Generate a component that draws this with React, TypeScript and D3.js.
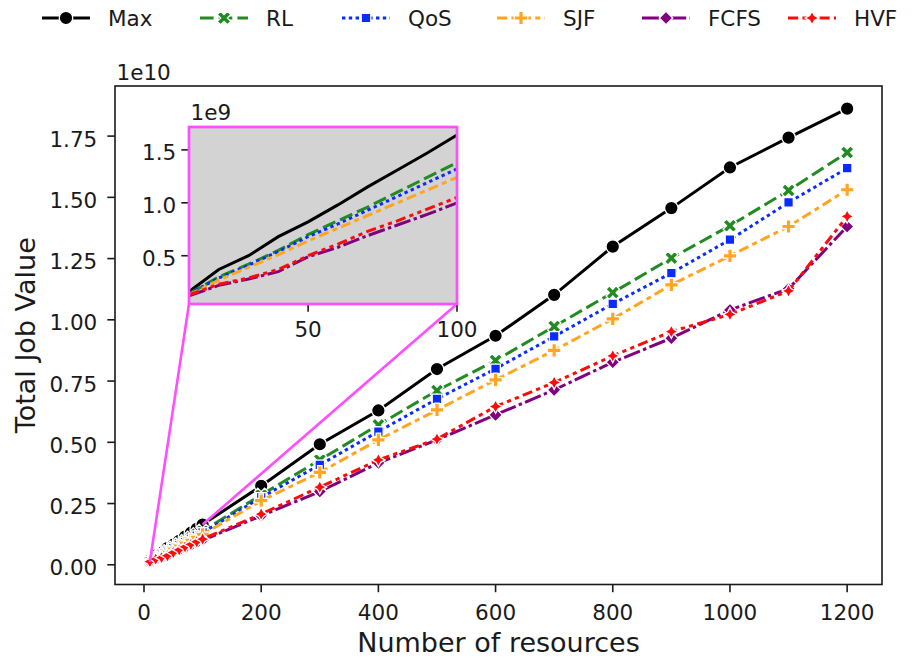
import React from "react";
import * as d3 from "d3";

// Number of resources on the x axis
const resources = [10, 20, 30, 40, 50, 60, 70, 80, 90, 100, 200, 300, 400, 500, 600, 700, 800, 900, 1000, 1100, 1200];

// Total job value per scheduling policy, in units of 1e9
const maxValues = [0.16, 0.37, 0.5, 0.68, 0.82, 0.98, 1.15, 1.31, 1.47, 1.64, 3.22, 4.92, 6.3, 7.99, 9.35, 11.02, 12.99, 14.56, 16.22, 17.44, 18.62];
const rlValues = [0.14, 0.3, 0.42, 0.55, 0.7, 0.83, 0.96, 1.1, 1.24, 1.38, 2.85, 4.28, 5.71, 7.11, 8.34, 9.73, 11.11, 12.52, 13.84, 15.28, 16.83];
const qosValues = [0.14, 0.29, 0.41, 0.54, 0.68, 0.8, 0.93, 1.06, 1.19, 1.32, 2.75, 4.08, 5.44, 6.77, 8.0, 9.32, 10.65, 11.91, 13.27, 14.79, 16.19];
const sjfValues = [0.13, 0.27, 0.39, 0.51, 0.64, 0.76, 0.88, 1.0, 1.12, 1.24, 2.62, 3.77, 5.1, 6.32, 7.55, 8.75, 10.04, 11.43, 12.61, 13.81, 15.31];
const fcfsValues = [0.12, 0.22, 0.28, 0.35, 0.49, 0.58, 0.69, 0.79, 0.89, 1.0, 2.0, 2.99, 4.16, 5.1, 6.12, 7.14, 8.27, 9.25, 10.4, 11.27, 13.81];
const hvfValues = [0.13, 0.23, 0.29, 0.37, 0.5, 0.61, 0.73, 0.83, 0.94, 1.05, 2.07, 3.17, 4.28, 5.13, 6.46, 7.44, 8.53, 9.52, 10.22, 11.18, 14.22];

const seriesNames = ["Max", "RL", "QoS", "SJF", "FCFS", "HVF"];
const seriesValues = [maxValues, rlValues, qosValues, sjfValues, fcfsValues, hvfValues];
const seriesColors = ["#000000", "#228b22", "#0a2bff", "#ffa520", "#800080", "#ff0a0a"];
const seriesDashes: number[][] = [[], [4, 1.5], [1, 1], [3, 1.25, 1.5, 1.25], [5, 1, 1, 1], [3, 1.25, 1.25, 1.25, 1.25, 1.25]];
const seriesMarkers = ["circle", "x", "square", "plus", "diamond", "star"];

// Axis ticks (values in units of 1e9)
const mainXTicks = [0, 200, 400, 600, 800, 1000, 1200];
const mainYTicks = [0, 2.5, 5, 7.5, 10, 12.5, 15, 17.5];
const mainYTickLabels = ["0.00", "0.25", "0.50", "0.75", "1.00", "1.25", "1.50", "1.75"];
const insetXTicks = [50, 100];
const insetYTicks = [0.5, 1.0, 1.5];
const insetYTickLabels = ["0.5", "1.0", "1.5"];
const insetXMax = 100;

const FONT = "DejaVu Sans";
const TEXT = "#1a1a1a";
const INSET_EDGE = "#ff4dff";
const LW = 3;
const DASH_UNIT = 3.4;
const MS = 13.5;

function polyPath(pts: number[][]): string {
  return "M" + pts.map((p) => `${p[0].toFixed(2)},${p[1].toFixed(2)}`).join("L") + "Z";
}

function markerPath(kind: string): string {
  const r = MS / 2;
  switch (kind) {
    case "circle":
      return d3.symbol(d3.symbolCircle, Math.PI * r * r)() as string;
    case "x": {
      const v = [[-1, -2], [0, -1], [1, -2], [2, -1], [1, 0], [2, 1], [1, 2], [0, 1], [-1, 2], [-2, 1], [-1, 0], [-2, -1]];
      return polyPath(v.map(([a, b]) => [(a * MS) / 4, (b * MS) / 4]));
    }
    case "plus": {
      const v = [[-1, -3], [1, -3], [1, -1], [3, -1], [3, 1], [1, 1], [1, 3], [-1, 3], [-1, 1], [-3, 1], [-3, -1], [-1, -1]];
      return polyPath(v.map(([a, b]) => [(a * MS) / 6, (b * MS) / 6]));
    }
    case "square": {
      const h = r * Math.SQRT1_2;
      return polyPath([[-h, -h], [h, -h], [h, h], [-h, h]]);
    }
    case "diamond":
      return polyPath([[0, -r], [r, 0], [0, r], [-r, 0]]);
    case "star": {
      const pts: number[][] = [];
      for (let i = 0; i < 8; i++) {
        const ang = Math.PI / 2 + (i * Math.PI) / 4;
        const rr = i % 2 === 0 ? r : r * 0.5;
        pts.push([rr * Math.cos(ang), -rr * Math.sin(ang)]);
      }
      return polyPath(pts);
    }
  }
  return "";
}

function Marker({ kind, color, x, y }: { kind: string; color: string; x: number; y: number }) {
  return (
    <path d={markerPath(kind)} transform={`translate(${x},${y})`} fill={color} stroke="#ffffff" strokeWidth={1.3} />
  );
}

export default function App() {
  const W = 919;
  const H = 660;
  const plot = { left: 115, right: 882, top: 86, bottom: 584.5 };
  const box = { left: 189, right: 457, top: 127, bottom: 304 };

  // Main axes with 5% data margins
  const xMin = d3.min(resources)!;
  const xMax = d3.max(resources)!;
  const xPad = 0.05 * (xMax - xMin);
  const allVals = seriesValues.flat();
  const yMin = d3.min(allVals)!;
  const yMax = d3.max(allVals)!;
  const yPad = 0.05 * (yMax - yMin);
  const x = d3.scaleLinear().domain([xMin - xPad, xMax + xPad]).range([plot.left, plot.right]);
  const y = d3.scaleLinear().domain([yMin - yPad, yMax + yPad]).range([plot.bottom, plot.top]);

  // Zoomed-in view of the first hundred resources
  const zoomIdx = resources.map((r, i) => i).filter((i) => resources[i] <= insetXMax);
  const zoomVals = seriesValues.flatMap((vals) => zoomIdx.map((i) => vals[i]));
  const zMin = d3.min(zoomVals)!;
  const zMax = d3.max(zoomVals)!;
  const zPad = 0.05 * (zMax - zMin);
  const xi = d3.scaleLinear().domain([xMin, insetXMax]).range([box.left, box.right]);
  const yi = d3.scaleLinear().domain([zMin - zPad, zMax + zPad]).range([box.bottom, box.top]);

  const mainLine = (vals: number[]) =>
    d3.line<number>().x((_, i) => x(resources[i])).y((v) => y(v))(vals) as string;
  const insetLine = (vals: number[]) =>
    d3.line<number>().x((_, i) => xi(resources[zoomIdx[i]])).y((v) => yi(v))(zoomIdx.map((i) => vals[i])) as string;

  const dash = (d: number[]) => (d.length ? d.map((v) => v * DASH_UNIT).join(" ") : undefined);

  // Legend placement
  const legendCx = [66, 224, 366, 521, 666, 812];
  const legendY = 18;

  const tickLen = 7.7;

  return (
    <svg
      width={W}
      height={H}
      style={{ position: "absolute", left: 0, top: 0, background: "#ffffff" }}
      fontFamily={FONT}
    >
      <rect x={0} y={0} width={W} height={H} fill="#ffffff" />
      <defs>
        <clipPath id="mainClip">
          <rect x={plot.left} y={plot.top} width={plot.right - plot.left} height={plot.bottom - plot.top} />
        </clipPath>
        <clipPath id="zoomClip">
          <rect x={box.left} y={box.top} width={box.right - box.left} height={box.bottom - box.top} />
        </clipPath>
      </defs>

      {/* Legend */}
      {seriesNames.map((name, k) => (
        <g key={name}>
          <line
            x1={legendCx[k] - 24}
            x2={legendCx[k] + 24}
            y1={legendY}
            y2={legendY}
            stroke={seriesColors[k]}
            strokeWidth={LW}
            strokeDasharray={dash(seriesDashes[k])}
          />
          <Marker kind={seriesMarkers[k]} color={seriesColors[k]} x={legendCx[k]} y={legendY} />
          <text x={legendCx[k] + 42} y={legendY + 8} fontSize={21.5} fill={TEXT}>
            {name}
          </text>
        </g>
      ))}

      {/* Series lines and markers */}
      {seriesValues.map((vals, k) => (
        <g key={seriesNames[k]}>
          <path
            d={mainLine(vals)}
            fill="none"
            stroke={seriesColors[k]}
            strokeWidth={LW}
            strokeDasharray={dash(seriesDashes[k])}
            clipPath="url(#mainClip)"
          />
          {vals.map((v, i) => (
            <Marker key={i} kind={seriesMarkers[k]} color={seriesColors[k]} x={x(resources[i])} y={y(v)} />
          ))}
        </g>
      ))}

      {/* Main frame */}
      <rect
        x={plot.left}
        y={plot.top}
        width={plot.right - plot.left}
        height={plot.bottom - plot.top}
        fill="none"
        stroke={TEXT}
        strokeWidth={1.6}
      />

      {/* Main x axis */}
      {mainXTicks.map((t) => (
        <g key={t}>
          <line x1={x(t)} x2={x(t)} y1={plot.bottom} y2={plot.bottom + tickLen} stroke={TEXT} strokeWidth={1.6} />
          <text x={x(t)} y={619.5} textAnchor="middle" fontSize={21.5} fill={TEXT}>
            {t}
          </text>
        </g>
      ))}
      <text x={(plot.left + plot.right) / 2} y={652} textAnchor="middle" fontSize={27} fill={TEXT}>
        Number of resources
      </text>

      {/* Main y axis */}
      {mainYTicks.map((t, i) => (
        <g key={t}>
          <line x1={plot.left - tickLen} x2={plot.left} y1={y(t)} y2={y(t)} stroke={TEXT} strokeWidth={1.6} />
          <text x={plot.left - tickLen - 10} y={y(t) + 10.5} textAnchor="end" fontSize={21.5} fill={TEXT}>
            {mainYTickLabels[i]}
          </text>
        </g>
      ))}
      <text x={plot.left + 1.5} y={80} fontSize={21.5} fill={TEXT}>
        1e10
      </text>
      <text
        transform={`translate(35,${(plot.top + plot.bottom) / 2}) rotate(-90)`}
        textAnchor="middle"
        fontSize={27}
        fill={TEXT}
      >
        Total Job Value
      </text>

      {/* Connectors from the zoom panel to the region it enlarges */}
      <line
        x1={box.left}
        y1={box.bottom}
        x2={x(xMin)}
        y2={y(zMin)}
        stroke={INSET_EDGE}
        strokeWidth={2.6}
      />
      <line
        x1={box.right}
        y1={box.bottom}
        x2={x(insetXMax)}
        y2={y(zMax)}
        stroke={INSET_EDGE}
        strokeWidth={2.6}
      />

      {/* Zoom panel */}
      <rect
        x={box.left}
        y={box.top}
        width={box.right - box.left}
        height={box.bottom - box.top}
        fill="#d3d3d3"
      />
      {seriesValues.map((vals, k) => (
        <path
          key={seriesNames[k]}
          d={insetLine(vals)}
          fill="none"
          stroke={seriesColors[k]}
          strokeWidth={LW}
          strokeDasharray={dash(seriesDashes[k])}
          clipPath="url(#zoomClip)"
        />
      ))}
      {insetXTicks.map((t) => (
        <g key={t}>
          <line x1={xi(t)} x2={xi(t)} y1={box.bottom} y2={box.bottom + tickLen} stroke={TEXT} strokeWidth={1.6} />
          <text x={xi(t)} y={336.5} textAnchor="middle" fontSize={21.5} fill={TEXT}>
            {t}
          </text>
        </g>
      ))}
      {insetYTicks.map((t, i) => (
        <g key={t}>
          <line x1={box.left - tickLen} x2={box.left} y1={yi(t)} y2={yi(t)} stroke={TEXT} strokeWidth={1.6} />
          <text x={box.left - tickLen - 5} y={yi(t) + 10.5} textAnchor="end" fontSize={21.5} fill={TEXT}>
            {insetYTickLabels[i]}
          </text>
        </g>
      ))}
      <text x={box.left + 1.5} y={120} fontSize={21.5} fill={TEXT}>
        1e9
      </text>
      <rect
        x={box.left}
        y={box.top}
        width={box.right - box.left}
        height={box.bottom - box.top}
        fill="none"
        stroke={INSET_EDGE}
        strokeWidth={2.7}
      />
    </svg>
  );
}
